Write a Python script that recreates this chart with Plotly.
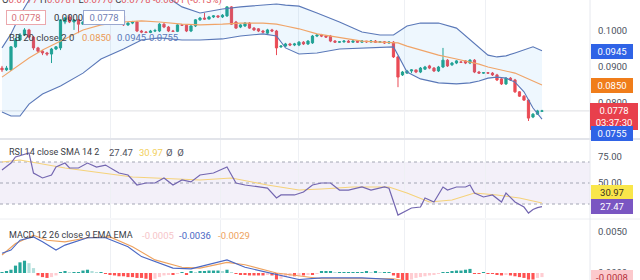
import plotly.graph_objects as go

# ---------------- data ----------------
candle_idx = list(range(121))
open_ = [0.0897,0.0892,0.0892,0.0956,0.0975,0.0989,0.1003,0.0983,0.0953,0.0944,
         0.0939,0.0936,0.0950,0.0953,0.1025,0.1039,0.1025,0.1031,0.1019,0.1025,
         0.1036,0.1031,0.1042,0.1036,0.1044,0.1039,0.1047,0.1042,0.1017,0.1022,
         0.1025,0.1000,0.0997,0.0996,0.1000,0.1000,0.1019,0.1011,0.1000,0.0999,
         0.1017,0.1016,0.1000,0.1014,0.1031,0.1036,0.1033,0.1039,0.1042,0.1039,
         0.1042,0.1067,0.1025,0.1011,0.1014,0.1022,0.1008,0.1006,0.1000,0.0994,
         0.1003,0.1000,0.0956,0.0958,0.0964,0.0961,0.0961,0.0969,0.0964,0.0967,
         0.0986,0.0989,0.0986,0.0986,0.0972,0.0969,0.0970,0.0972,0.0969,0.0972,
         0.0969,0.0972,0.0970,0.0972,0.0969,0.0970,0.0967,0.0969,0.0928,0.0878,
         0.0883,0.0889,0.0892,0.0886,0.0894,0.0903,0.0897,0.0889,0.0900,0.0919,
         0.0906,0.0911,0.0914,0.0917,0.0911,0.0919,0.0886,0.0883,0.0884,0.0883,
         0.0878,0.0867,0.0853,0.0869,0.0864,0.0831,0.0819,0.0808,0.0761,0.0769,
         0.0777]
high = [0.0903,0.0903,0.0958,0.0981,0.0994,0.1008,0.1006,0.0986,0.0956,0.0947,
        0.0942,0.0953,0.0958,0.1033,0.1039,0.1044,0.1033,0.1033,0.1028,0.1039,
        0.1039,0.1044,0.1044,0.1047,0.1047,0.1050,0.1050,0.1044,0.1025,0.1028,
        0.1028,0.1003,0.1000,0.1003,0.1006,0.1022,0.1022,0.1014,0.1003,0.1019,
        0.1019,0.1019,0.1017,0.1033,0.1039,0.1050,0.1042,0.1044,0.1044,0.1047,
        0.1069,0.1069,0.1028,0.1019,0.1025,0.1025,0.1011,0.1008,0.1003,0.1006,
        0.1006,0.1003,0.0961,0.0967,0.0967,0.0967,0.0972,0.0972,0.0975,0.0989,
        0.0992,0.0992,0.0989,0.0989,0.0975,0.0972,0.0975,0.0975,0.0975,0.0975,
        0.0975,0.0972,0.0975,0.0975,0.0972,0.0972,0.0972,0.0972,0.0931,0.0889,
        0.0892,0.0894,0.0892,0.0900,0.0903,0.0906,0.0900,0.0903,0.0953,0.0922,
        0.0914,0.0919,0.0917,0.0919,0.0922,0.0922,0.0889,0.0886,0.0886,0.0886,
        0.0881,0.0869,0.0872,0.0872,0.0867,0.0833,0.0822,0.0811,0.0772,0.0781,
        0.0781]
low = [0.0886,0.0889,0.0889,0.0953,0.0972,0.0986,0.0981,0.0947,0.0939,0.0933,
       0.0931,0.0911,0.0947,0.0947,0.1019,0.1022,0.1003,0.0994,0.1017,0.1022,
       0.1028,0.1028,0.1033,0.1033,0.1036,0.1036,0.1039,0.1014,0.1014,0.1019,
       0.0997,0.0994,0.0994,0.0994,0.0997,0.0997,0.1008,0.0997,0.0997,0.0997,
       0.1014,0.0997,0.0997,0.1011,0.1028,0.1031,0.1033,0.1036,0.1036,0.1036,
       0.1039,0.1017,0.1006,0.1008,0.1011,0.1006,0.1000,0.0997,0.0994,0.0992,
       0.0997,0.0933,0.0953,0.0956,0.0958,0.0958,0.0958,0.0961,0.0961,0.0964,
       0.0983,0.0983,0.0981,0.0969,0.0967,0.0967,0.0967,0.0967,0.0967,0.0967,
       0.0967,0.0967,0.0967,0.0967,0.0967,0.0964,0.0964,0.0925,0.0844,0.0875,
       0.0881,0.0883,0.0883,0.0883,0.0892,0.0894,0.0886,0.0886,0.0897,0.0900,
       0.0903,0.0908,0.0911,0.0908,0.0908,0.0883,0.0881,0.0881,0.0881,0.0875,
       0.0861,0.0850,0.0850,0.0861,0.0828,0.0817,0.0806,0.0750,0.0758,0.0767,
       0.0776]
close = [0.0892,0.0897,0.0956,0.0975,0.0989,0.1003,0.0983,0.0953,0.0944,0.0939,
         0.0936,0.0950,0.0956,0.1031,0.1036,0.1025,0.1031,0.1019,0.1025,0.1036,
         0.1031,0.1042,0.1036,0.1044,0.1039,0.1047,0.1042,0.1017,0.1022,0.1025,
         0.1000,0.0997,0.0996,0.1000,0.1001,0.1019,0.1011,0.1000,0.0999,0.1017,
         0.1016,0.1000,0.1014,0.1031,0.1036,0.1033,0.1039,0.1042,0.1039,0.1044,
         0.1067,0.1019,0.1008,0.1017,0.1022,0.1008,0.1003,0.1000,0.0997,0.1003,
         0.1000,0.0953,0.0958,0.0964,0.0961,0.0964,0.0969,0.0964,0.0972,0.0986,
         0.0989,0.0986,0.0983,0.0972,0.0969,0.0970,0.0972,0.0969,0.0972,0.0969,
         0.0972,0.0970,0.0972,0.0969,0.0970,0.0967,0.0969,0.0928,0.0872,0.0886,
         0.0889,0.0892,0.0886,0.0897,0.0900,0.0897,0.0889,0.0900,0.0919,0.0903,
         0.0911,0.0917,0.0913,0.0911,0.0919,0.0886,0.0883,0.0884,0.0883,0.0878,
         0.0864,0.0853,0.0869,0.0864,0.0831,0.0819,0.0808,0.0758,0.0769,0.0778,
         0.0778]

bb_idx = [0,2,4,6,9,13,18,22,27,31,35,40,44,49,53,58,61,63,66,70,75,80,84,87,88,
          90,93,97,101,104,106,108,110,112,114,116,118,120]
bb_upper = [0.0953,0.0992,0.1044,0.1086,0.1114,0.1136,0.1147,0.1147,0.1136,0.1125,
            0.1108,0.1067,0.1050,0.1061,0.1067,0.1072,0.1075,0.1072,0.1069,0.1050,
            0.1025,0.0997,0.0989,0.0989,0.0997,0.1014,0.1022,0.1022,0.1008,0.0975,
            0.0953,0.0933,0.0928,0.0931,0.0939,0.0947,0.0956,0.0945]
bb_basis = [0.0872,0.0889,0.0908,0.0925,0.0947,0.0972,0.1003,0.1017,0.1025,0.1028,
            0.1025,0.1019,0.1017,0.1019,0.1022,0.1022,0.1019,0.1014,0.1006,0.0992,
            0.0981,0.0972,0.0969,0.0969,0.0967,0.0958,0.0947,0.0933,0.0922,0.0914,
            0.0908,0.0900,0.0894,0.0889,0.0883,0.0872,0.0861,0.0850]
bb_lower = [0.0775,0.0764,0.0764,0.0797,0.0825,0.0847,0.0883,0.0922,0.0950,0.0975,
            0.0981,0.0975,0.0975,0.0978,0.0986,0.0992,0.0986,0.0953,0.0936,0.0939,
            0.0950,0.0953,0.0956,0.0956,0.0933,0.0886,0.0867,0.0856,0.0853,0.0856,
            0.0861,0.0869,0.0872,0.0869,0.0858,0.0831,0.0786,0.0755]

rsi_idx = [0,2,3,6,7,9,11,12,14,15,17,19,21,23,26,28,30,32,34,36,38,40,42,44,47,
           50,51,52,54,57,59,61,62,65,67,69,71,73,75,77,80,82,85,86,87,88,91,93,94,96,
           98,99,101,103,104,105,107,109,111,112,114,116,117,118,119,120]
rsi_val = [62.4,69.0,74.8,78.6,59.5,54.8,57.6,65.2,69.0,64.3,64.3,69.0,65.2,67.1,59.5,
           57.6,48.1,50.0,50.0,54.8,48.1,52.9,51.0,57.6,59.5,65.2,57.6,50.0,48.1,46.2,
           45.2,35.7,38.6,38.6,41.4,48.1,50.0,50.0,43.3,43.3,46.2,43.3,46.2,45.0,33.0,
           19.5,26.2,27.1,35.7,31.9,46.2,43.3,46.2,46.2,48.1,40.5,36.7,38.6,31.9,40.5,
           31.9,27.1,21.4,24.8,26.5,27.47]
rsi_sma_idx = [0,4,14,29,44,51,59,66,71,78,86,90,95,100,105,110,115,120]
rsi_sma_val = [70.0,71.9,64.3,55.7,52.9,54.8,48.1,43.3,44.3,46.2,46.2,40.5,31.9,33.8,
               40.5,38.6,35.7,30.97]
rsi_levels = [70, 50, 30]

macd_idx = [0,2,4,7,9,12,14,19,23,28,31,35,38,42,50,54,61,66,71,80,87,88,95,105,115,120]
macd_val = [0.0024,0.0028,0.0040,0.0044,0.0038,0.0028,0.0034,0.0043,0.0043,0.0032,
            0.0020,0.0012,0.0006,0.0005,0.0016,0.0007,-0.0002,-0.0008,-0.0006,-0.0006,
            -0.0008,-0.0015,-0.0030,-0.0028,-0.0033,-0.0036]
signal_idx = [0,3,7,10,14,19,24,29,34,40,44,50,54,61,71,87,95,105,115,120]
signal_val = [0.0022,0.0036,0.0046,0.0040,0.0038,0.0043,0.0044,0.0032,0.0016,0.0007,
              0.0006,0.0013,0.0010,0.0000,-0.0007,-0.0007,-0.0015,-0.0024,-0.0026,-0.0029]
hist_val = [0.0001,0.0002,0.0004,0.0009,0.0013,0.0015,0.0012,0.0006,-0.0003,-0.0005,
            -0.0006,-0.0005,-0.0003,0.0001,0.0002,0.0001,0.0001,0.0001,0.0003,0.0004,
            0.0002,0.0001,0.0001,-0.0001,-0.0002,-0.0003,-0.0004,-0.0004,-0.0005,-0.0005,
            -0.0006,-0.0006,-0.0007,-0.0009,-0.0007,-0.0005,-0.0003,-0.0002,-0.0002,-0.0001,
            0.0001,-0.0002,0.0002,0.0001,0.0002,0.0002,0.0003,0.0003,0.0003,0.0002,
            0.0004,0.0001,-0.0001,-0.0002,-0.0002,-0.0003,-0.0003,-0.0003,-0.0003,-0.0002,
            -0.0003,-0.0008,-0.0007,-0.0005,-0.0004,-0.0004,-0.0003,-0.0003,-0.0002,-0.0002,
            -0.0001,0.0002,0.0002,0.0002,0.0001,0.0001,0.0001,0.0001,0.0001,0.0001,
            0.0001,0.0002,0.0001,0.0002,0.0001,0.0001,0.0001,-0.0003,-0.0006,-0.0009,
            -0.0009,-0.0008,-0.0006,-0.0005,-0.0004,-0.0003,-0.0002,-0.0001,0.0001,0.0001,
            0.0002,0.0003,0.0003,0.0004,0.0005,-0.0001,-0.0001,0.0001,-0.0001,-0.0001,
            -0.0002,-0.0003,-0.0002,-0.0003,-0.0004,-0.0005,-0.0006,-0.0008,-0.0008,-0.0006,
            -0.0005]

price_ticks = [0.08, 0.09, 0.10]
rsi_ticks = [50, 75]
macd_ticks = [0.0, 0.005]
last_price = 0.0778

# ---------------- styling ----------------
W, H = 640, 280
PLOT_W = 590
FONT = "Roboto, Liberation Sans, sans-serif"
GREEN, RED = "#22a38f", "#ea4b55"
TXT = "#3a3d46"
AX = "#4c525e"
FS = 9.5

def px(x):
    return x / PLOT_W

def py(y):
    return 1 - y / H

fig = go.Figure()

# Bollinger bands
fig.add_trace(go.Scatter(x=bb_idx, y=bb_upper, mode="lines", line=dict(color="#5a78b8", width=1.1),
                         xaxis="x", yaxis="y", hoverinfo="skip"))
fig.add_trace(go.Scatter(x=bb_idx, y=bb_lower, mode="lines", line=dict(color="#5a78b8", width=1.1),
                         fill="tonexty", fillcolor="rgba(33,150,243,0.08)",
                         xaxis="x", yaxis="y", hoverinfo="skip"))
fig.add_trace(go.Scatter(x=bb_idx, y=bb_basis, mode="lines", line=dict(color="#f0a468", width=1.1),
                         xaxis="x", yaxis="y", hoverinfo="skip"))

fig.add_trace(go.Candlestick(x=candle_idx, open=open_, high=high, low=low, close=close,
                             increasing=dict(line=dict(color=GREEN, width=1), fillcolor=GREEN),
                             decreasing=dict(line=dict(color=RED, width=1), fillcolor=RED),
                             whiskerwidth=0, xaxis="x", yaxis="y"))

# RSI
fig.add_trace(go.Scatter(x=rsi_sma_idx, y=rsi_sma_val, mode="lines", line=dict(color="#f5d27a", width=1.1),
                         xaxis="x2", yaxis="y2", hoverinfo="skip"))
fig.add_trace(go.Scatter(x=rsi_idx, y=rsi_val, mode="lines", line=dict(color="#7366b0", width=1.2),
                         xaxis="x2", yaxis="y2", hoverinfo="skip"))

# MACD
hist_colors = []
for i, v in enumerate(hist_val):
    prev = hist_val[i - 1] if i > 0 else 0
    if v >= 0:
        hist_colors.append("#26a69a" if v >= prev else "#b2dfdb")
    else:
        hist_colors.append("#ff5252" if v <= prev else "#ffcdd2")
fig.add_trace(go.Bar(x=candle_idx, y=hist_val, marker=dict(color=hist_colors, line=dict(width=0)),
                     width=0.7, xaxis="x3", yaxis="y3", hoverinfo="skip"))
fig.add_trace(go.Scatter(x=signal_idx, y=signal_val, mode="lines", line=dict(color="#eea25e", width=1.1),
                         xaxis="x3", yaxis="y3", hoverinfo="skip"))
fig.add_trace(go.Scatter(x=macd_idx, y=macd_val, mode="lines", line=dict(color="#4a68c4", width=1.1),
                         xaxis="x3", yaxis="y3", hoverinfo="skip"))

xrange = [-0.444, 130.67]
grid_x = [24, 48.5, 66, 89.5, 107.5]
xcommon = dict(range=xrange, showticklabels=False, showgrid=True, tickvals=grid_x,
               gridcolor="#eef0f4", gridwidth=1, zeroline=False, ticks="", showline=False)
ycommon = dict(side="right", ticks="", showgrid=False, zeroline=False, showline=False,
               tickfont=dict(family=FONT, size=FS, color=AX), ticklabelstandoff=7)

fig.update_layout(
    width=W, height=H, margin=dict(l=0, r=W - PLOT_W, t=0, b=0), autosize=False,
    paper_bgcolor="white", plot_bgcolor="white", showlegend=False, bargap=0.3,
    font=dict(family=FONT, size=FS, color=TXT),
    xaxis=dict(domain=[0, 1], anchor="y", rangeslider=dict(visible=False), **xcommon),
    xaxis2=dict(domain=[0, 1], anchor="y2", matches="x", **xcommon),
    xaxis3=dict(domain=[0, 1], anchor="y3", matches="x", **xcommon),
    yaxis=dict(domain=[py(138), 1], range=[0.070278, 0.108611], tickvals=price_ticks,
               tickformat=".4f", anchor="x", **ycommon),
    yaxis2=dict(domain=[py(218), py(140)], range=[16.67, 90.95], tickvals=rsi_ticks,
                tickformat=".2f", anchor="x2", **ycommon),
    yaxis3=dict(domain=[0, py(220)], range=[-0.000854, 0.006463], tickvals=macd_ticks,
                tickformat=".4f", anchor="x3", **ycommon),
)

shapes = []
# RSI background band and dashed levels
shapes.append(dict(type="rect", xref="x2 domain", yref="y2", x0=0, x1=1, y0=30, y1=70,
                   fillcolor="rgba(126,87,194,0.09)", line=dict(width=0), layer="below"))
for lv in rsi_levels:
    shapes.append(dict(type="line", xref="x2 domain", yref="y2", x0=0, x1=1, y0=lv, y1=lv,
                       line=dict(color="#a3a6b4", width=1, dash="3px,3px"), layer="below"))
# last-price line
shapes.append(dict(type="line", xref="x domain", yref="y", x0=0, x1=1, y0=last_price, y1=last_price,
                   line=dict(color="#dedfe3", width=1), layer="below"))
# pane separators
shapes.append(dict(type="line", xref="paper", yref="paper", x0=0, x1=W / PLOT_W, y0=py(139), y1=py(139),
                   line=dict(color="#e2e4ea", width=2)))
shapes.append(dict(type="line", xref="paper", yref="paper", x0=0, x1=W / PLOT_W, y0=py(219), y1=py(219),
                   line=dict(color="#eceef2", width=1)))
shapes.append(dict(type="line", xref="paper", yref="paper", x0=1, x1=1, y0=0, y1=1,
                   line=dict(color="#e6e8ee", width=1)))
fig.update_layout(shapes=shapes)

anns = []

def text(t, x, y, color=TXT, size=FS, anchor="left", **kw):
    anns.append(dict(text=t, x=px(x), y=py(y), xref="paper", yref="paper", xanchor=anchor,
                     yanchor="middle", showarrow=False, font=dict(family=FONT, size=size, color=color), **kw))

def box(t, y, bg, fg="white", x=612, w=38):
    anns.append(dict(text=t, x=px(x), y=py(y), xref="paper", yref="paper", xanchor="center",
                     yanchor="middle", showarrow=False, bgcolor=bg, bordercolor=bg, borderpad=1,
                     width=w, align="center", font=dict(family=FONT, size=FS, color=fg)))

r = "#e25a63"
text(f"O<span style='color:{r}'>0.0777</span> H<span style='color:{r}'>0.0781</span> "
     f"L<span style='color:{r}'>0.0776</span> C<span style='color:{r}'>0.0778</span> "
     f"<span style='color:{r}'>-0.0001 (-0.13%)</span>", 0, 0)
text("0.0778", 6, 17, color="#d7737b", bordercolor="#eba8ad", borderwidth=1,
     borderpad=1, bgcolor="white", width=36, align="center")
text("0.0000", 52, 17, color="#2f3138")
text("0.0778", 83, 17, color="#6f80b5", bordercolor="#9aa8d0", borderwidth=1,
     borderpad=1, bgcolor="white", width=38, align="center")
text("BB 20 close 2 0", 7, 38, color="#3a3d46")
text("0.0850", 80, 38, color="#eb9a55")
text("0.0945", 115, 38, color="#5a78b8")
text("0.0755", 147, 38, color="#5a78b8")

text("RSI 14 close SMA 14 2", 7, 152, size=9)
text("27.47", 107, 152, color="#4d4f5c")
text("30.97", 137, 152, color="#f2cf5a")
text("Ø  Ø", 164, 152, color="#4d4f5c")

text("MACD 12 26 close 9 EMA EMA", 7, 235, size=9)
text("-0.0005", 140, 235, color="#f6c5c9")
text("-0.0036", 177, 235, color="#4a68c4")
text("-0.0029", 216, 235, color="#eea25e")

box("0.0945", 51, "#2f63e6")
box("0.0850", 85, "#f07d1a")
box("0.0778<br>03:37:30", 116, "#e8404c", x=614, w=44)
box("0.0755", 133, "#2f63e6")
box("30.97", 192, "#f9e64a", fg="#3a3322")
box("27.47", 206, "#7a56c2")
box("-0.0008", 277, "#fcc9cc", fg="#b5303a")

fig.update_layout(annotations=anns)

fig.write_html("out.html")
